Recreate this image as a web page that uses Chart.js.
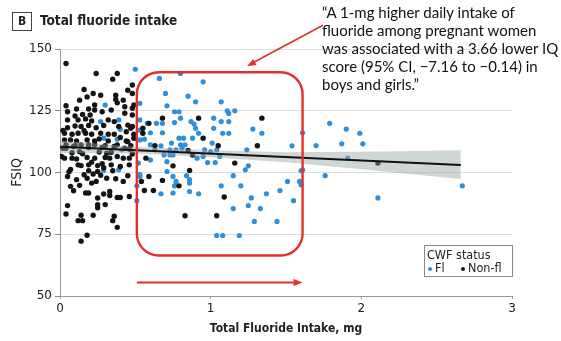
<!DOCTYPE html>
<html>
<head>
<meta charset="utf-8">
<script src="https://cdn.jsdelivr.net/npm/chart.js@4"></script>
<style>
  html, body { margin: 0; padding: 0; background: #fff; }
  #wrap { position: relative; width: 561px; height: 341px; overflow: hidden; }
  canvas { position: absolute; left: 0; top: 0; }
  .badge { position: absolute; left: 12px; top: 12px; width: 18px; height: 17px; border: 1px solid #444;
           font: bold 12px "DejaVu Sans Condensed", sans-serif; color: #222;
           text-align: center; line-height: 17px; }
  .title { position: absolute; left: 40px; top: 12px; line-height: 19px;
           font: bold 13.5px "DejaVu Sans Condensed", sans-serif; color: #222; }
  .quote { position: absolute; left: 322px; top: 3px; line-height: 20.3px; white-space: nowrap;
           font: 15px Lato, "Open Sans", sans-serif; color: #111; }
</style>
</head>
<body>
<div id="wrap">
  <canvas id="c" width="561" height="341"></canvas>
  <div class="badge">B</div>
  <div class="title">Total fluoride intake</div>
  <div class="quote">“A 1-mg higher daily intake of<br>fluoride among pregnant women<br>was associated with a 3.66 lower IQ<br>score (95% CI, −7.16 to −0.14) in<br>boys and girls.”</div>
</div>
<script>
// Scatter: FSIQ vs total fluoride intake, split by CWF status, with linear fit + 95% CI band.

const X_TICKS = [0, 1, 2, 3];
const Y_TICKS = [50, 75, 100, 125, 150];

// Fl (fluoridated) – blue
const flX = [0.50,0.66,0.80,0.95,0.70,0.85,0.90,1.07,0.71,0.76,0.79,1.11,1.12,1.16,0.53,0.58,0.64,0.68,0.76,0.80,
  0.87,0.89,1.02,1.07,1.12,1.28,0.90,1.02,0.53,0.60,0.68,0.92,1.08,1.12,1.34,1.61,0.56,0.79,0.82,0.88,
  1.01,0.74,0.60,0.67,0.80,0.83,0.63,0.73,0.77,0.81,0.96,1.00,1.04,1.24,1.54,0.69,0.73,0.75,0.91,0.95,
  1.06,0.60,0.71,0.98,1.03,1.25,0.53,0.71,1.23,1.61,1.15,0.75,0.84,0.86,0.77,0.76,0.86,0.51,1.07,1.20,
  1.51,1.59,1.60,0.67,0.75,0.86,0.92,1.46,1.37,1.27,1.55,1.25,1.15,1.33,1.29,1.44,1.04,1.08,1.19,0.53,
  0.51,1.79,1.90,1.99,1.70,1.87,2.01,1.91,1.60,1.76,2.11,2.67,0.30,0.27,0.39,0.40,0.29,0.38,0.53,0.41,
  0.29,0.39,0.52,0.53];
const flY = [141.8,138.1,140.1,136.7,132.0,130.9,128.6,128.6,127.0,124.6,124.6,125.0,123.9,125.0,121.3,119.9,119.9,119.9,120.2,122.0,
  120.6,119.6,122.0,120.6,120.6,117.6,117.9,117.9,117.2,116.1,116.1,115.9,115.9,115.9,115.9,116.1,113.5,113.9,113.9,113.9,
  111.9,111.9,111.2,110.8,111.2,111.2,109.2,109.2,109.2,109.8,109.2,108.5,109.2,109.2,110.8,107.1,107.1,107.1,105.8,106.5,
  106.5,105.1,104.4,104.0,104.0,102.7,99.1,100.4,101.1,101.1,98.7,98.4,98.7,97.1,96.4,94.6,95.7,94.6,94.6,94.6,
  96.4,96.4,95.0,91.4,91.7,92.3,91.4,92.7,91.4,89.7,88.6,86.6,85.4,85.4,80.2,80.2,74.5,74.5,74.5,128.0,
  88.6,119.9,117.6,115.9,110.9,111.6,111.6,105.8,100.7,98.7,89.7,94.6,127.3,120.6,121.3,117.5,113.9,113.5,113.2,109.2,
  100.8,101.1,103.8,98.4];

// Non-fl – black
const nonX = [0.04,0.24,0.35,0.38,0.16,0.18,0.22,0.27,0.37,0.37,0.13,0.04,0.05,0.23,0.19,0.23,0.11,0.15,0.20,0.28,
  0.34,0.43,0.43,0.48,0.05,0.12,0.17,0.21,0.32,0.36,0.05,0.10,0.14,0.19,0.24,0.29,0.39,0.45,0.03,0.08,
  0.12,0.17,0.21,0.27,0.32,0.36,0.44,0.49,0.03,0.07,0.11,0.18,0.23,0.32,0.44,0.04,0.10,0.14,0.19,0.23,
  0.30,0.38,0.47,0.04,0.09,0.19,0.28,0.36,0.43,0.03,0.08,0.11,0.18,0.23,0.30,0.33,0.38,0.46,0.12,0.14,
  0.19,0.25,0.34,0.40,0.19,0.25,0.35,0.05,0.11,0.18,0.21,0.24,0.31,0.37,0.07,0.13,0.17,0.19,0.25,0.29,
  0.33,0.33,0.38,0.40,0.25,0.30,0.05,0.25,0.04,0.14,0.22,0.12,0.15,0.35,0.38,0.18,0.14,0.01,0.02,0.45,
  0.38,0.42,0.49,0.48,0.45,0.49,0.48,0.42,0.46,0.45,0.42,0.46,0.36,0.48,0.48,0.48,0.47,0.55,0.55,0.50,
  0.68,0.59,0.92,1.34,0.95,1.05,1.31,0.63,0.46,0.88,0.85,0.57,0.75,0.86,1.16,0.68,0.59,0.54,0.56,0.62,
  0.79,1.09,0.83,1.04,2.11,
  0.08,0.15,0.26,0.31,0.07,0.21,0.28,0.34,0.10,0.16,0.26,0.02,0.13,0.27,0.06,0.22,0.40,0.09,0.16,0.29];
const nonY = [144.1,140.1,137.8,140.1,133.6,130.6,132.0,131.3,129.6,131.3,129.3,127.0,124.6,127.3,125.7,125.3,125.7,123.5,123.3,124.6,
  125.3,126.6,124.0,126.0,121.3,121.3,121.7,120.9,121.3,120.6,118.1,118.8,118.6,119.0,118.1,119.0,118.6,119.2,115.9,115.5,
  115.9,115.9,115.5,115.9,115.5,115.5,116.5,115.5,113.2,113.2,112.8,113.2,112.8,112.8,112.8,111.2,110.9,111.2,111.2,111.2,
  110.9,111.2,110.9,109.8,110.5,110.1,110.1,110.5,109.8,105.8,105.8,105.5,106.1,105.8,106.1,105.8,106.5,105.8,103.1,102.8,
  103.1,102.8,103.1,102.4,100.7,100.4,100.7,98.4,97.1,97.7,95.7,96.4,97.7,97.5,94.4,94.8,91.7,91.7,89.7,91.3,
  92.3,90.7,89.9,89.9,87.0,87.0,86.6,85.7,83.2,82.7,82.7,80.5,80.5,80.5,77.8,74.6,72.2,106.5,109.8,133.3,
  128.2,129.3,127.3,118.6,112.5,113.9,107.5,105.8,103.1,98.7,96.4,90.3,82.3,135.4,132.0,123.3,117.9,117.9,115.9,113.9,
  122.0,119.9,122.0,122.0,113.9,110.8,110.8,110.8,109.4,107.1,108.9,105.8,102.7,100.8,103.8,96.8,98.4,96.4,92.7,92.7,
  94.6,90.1,82.5,82.5,103.8,
  108.0,107.6,108.3,107.8,101.2,104.2,103.6,108.2,122.9,116.9,113.6,117.0,108.4,98.9,100.3,99.4,114.2,92.6,99.1,101.9];

// linear fit and its 95% CI band
const fitX = [0, 2.66];
const fitY = [110.4, 103.0];
const bandX  = [0, 0.5, 1, 1.5, 2, 2.66];
const bandHi = [112.9, 110.4, 109.0, 108.2, 108.4, 109.0];
const bandLo = [107.9, 107.7, 106.2, 104.2, 101.3, 97.4];

// red hand-drawn annotation, in data units
const boxXY   = [0.51, 140.6, 1.61, 66.4];
const arrowBottom = [0.51, 1.61, 55.5];
const arrowCallout = [1.745, 159.6, 1.241, 143.0];

const BLUE = '#2f8fd8', BLACK = '#141414', RED = '#e2302c';
const narrow = '"DejaVu Sans Condensed", sans-serif';

const pts = (xs, ys) => xs.map((x, i) => ({ x, y: ys[i] }));

function arrowHead(ctx, x0, y0, x1, y1, len, half) {
  const a = Math.atan2(y1 - y0, x1 - x0);
  ctx.beginPath();
  ctx.moveTo(x1, y1);
  ctx.lineTo(x1 - len * Math.cos(a) + half * Math.sin(a), y1 - len * Math.sin(a) - half * Math.cos(a));
  ctx.lineTo(x1 - len * Math.cos(a) - half * Math.sin(a), y1 - len * Math.sin(a) + half * Math.cos(a));
  ctx.closePath();
  ctx.fill();
}

const annotations = {
  id: 'annotations',
  afterDraw(chart) {
    const { ctx, scales: { x, y }, chartArea } = chart;
    ctx.save();
    // rounded box
    const bx0 = x.getPixelForValue(boxXY[0]), by0 = y.getPixelForValue(boxXY[1]);
    const bx1 = x.getPixelForValue(boxXY[2]), by1 = y.getPixelForValue(boxXY[3]);
    ctx.strokeStyle = RED; ctx.fillStyle = RED; ctx.lineWidth = 2.4;
    ctx.beginPath();
    ctx.roundRect(bx0, by0, bx1 - bx0, by1 - by0, 22);
    ctx.stroke();
    // bottom arrow
    const ax0 = x.getPixelForValue(arrowBottom[0]), ax1 = x.getPixelForValue(arrowBottom[1]);
    const ay = y.getPixelForValue(arrowBottom[2]);
    ctx.lineWidth = 2;
    ctx.beginPath(); ctx.moveTo(ax0, ay); ctx.lineTo(ax1 - 6, ay); ctx.stroke();
    arrowHead(ctx, ax0, ay, ax1, ay, 9, 3.5);
    // callout arrow
    const cx0 = x.getPixelForValue(arrowCallout[0]), cy0 = y.getPixelForValue(arrowCallout[1]);
    const cx1 = x.getPixelForValue(arrowCallout[2]), cy1 = y.getPixelForValue(arrowCallout[3]);
    ctx.lineWidth = 1.6;
    ctx.beginPath(); ctx.moveTo(cx0, cy0); ctx.lineTo(cx1 + 5, cy1 - 3); ctx.stroke();
    arrowHead(ctx, cx0, cy0, cx1, cy1, 9, 3.5);

    // legend box
    const lr = chartArea.right + 1, lt = chartArea.bottom - 51;
    ctx.strokeStyle = '#8a8a8a'; ctx.lineWidth = 1;
    ctx.strokeRect(lr - 89 + 0.5, lt + 0.5, 88, 31);
    ctx.fillStyle = '#222';
    ctx.font = '12.5px ' + narrow;
    ctx.textBaseline = 'middle';
    ctx.fillText('CWF status', lr - 86, lt + 11);
    ctx.fillStyle = BLUE;
    ctx.beginPath(); ctx.arc(lr - 83, lt + 24, 2, 0, Math.PI * 2); ctx.fill();
    ctx.fillStyle = '#222';
    ctx.fillText('Fl', lr - 78, lt + 24);
    ctx.fillStyle = BLACK;
    ctx.beginPath(); ctx.arc(lr - 50, lt + 24, 2, 0, Math.PI * 2); ctx.fill();
    ctx.fillStyle = '#222';
    ctx.fillText('Non-fl', lr - 45, lt + 24);
    ctx.restore();
  }
};

new Chart(document.getElementById('c'), {
  type: 'scatter',
  data: {
    datasets: [
      { label: 'Fl', data: pts(flX, flY), backgroundColor: BLUE, pointRadius: 2.6, borderWidth: 0, order: 3 },
      { label: 'Non-fl', data: pts(nonX, nonY), backgroundColor: BLACK, pointRadius: 2.7, borderWidth: 0, order: 2 },
      { type: 'line', label: 'lo', data: pts(bandX, bandLo), borderWidth: 0, pointRadius: 0, fill: false, order: 1 },
      { type: 'line', label: 'hi', data: pts(bandX, bandHi), borderWidth: 0, pointRadius: 0,
        fill: '-1', backgroundColor: 'rgba(150,165,165,0.45)', order: 1 },
      { type: 'line', label: 'fit', data: pts(fitX, fitY), borderColor: '#111', borderWidth: 2,
        pointRadius: 0, fill: false, order: 0 },
    ]
  },
  options: {
    responsive: false, animation: false, devicePixelRatio: 1,
    layout: { padding: { top: 49, right: 49, left: 0, bottom: 0 } },
    plugins: { legend: { display: false }, tooltip: { enabled: false } },
    scales: {
      x: {
        type: 'linear', min: X_TICKS[0], max: X_TICKS[X_TICKS.length - 1],
        afterBuildTicks: s => { s.ticks = X_TICKS.map(v => ({ value: v })); },
        afterFit: s => { s.height = 45; },
        ticks: { color: '#222', font: { family: 'DejaVu Sans', size: 12 }, padding: 3 },
        grid: { drawOnChartArea: false, tickLength: 3, color: '#999' },
        border: { color: '#999' },
        title: { display: true, text: 'Total Fluoride Intake, mg', color: '#222',
                 font: { family: narrow, size: 12, weight: 'bold' }, padding: { top: 0, bottom: 5 } },
      },
      y: {
        min: Y_TICKS[0], max: Y_TICKS[Y_TICKS.length - 1],
        afterBuildTicks: s => { s.ticks = Y_TICKS.map(v => ({ value: v })); },
        afterFit: s => { s.width = 60; },
        ticks: { color: '#222', font: { family: 'DejaVu Sans', size: 12 }, padding: 3 },
        grid: { color: '#dedede', tickColor: '#888', tickLength: 5 },
        border: { color: '#999' },
        title: { display: true, text: 'FSIQ', color: '#222',
                 font: { family: narrow, size: 14 }, padding: { top: 9, bottom: 0 } },
      },
    },
  },
  plugins: [annotations],
});
</script>
</body>
</html>
